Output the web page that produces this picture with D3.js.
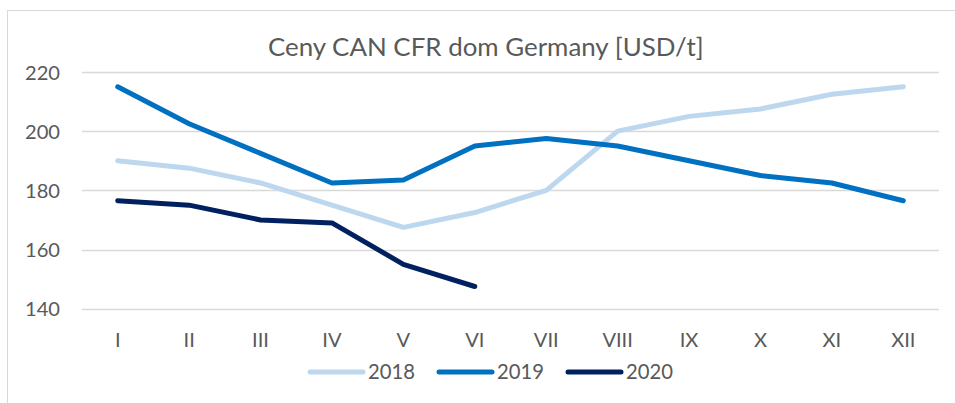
<!DOCTYPE html>
<html>
<head>
<meta charset="utf-8">
<script src="https://cdn.jsdelivr.net/npm/d3@7"></script>
<style>
html,body{margin:0;padding:0;background:#fff;}
svg{display:block;}
</style>
</head>
<body>
<svg id="chart" width="955" height="403"></svg>
<script>
const months = ["I","II","III","IV","V","VI","VII","VIII","IX","X","XI","XII"];
const yTicks = [140,160,180,200,220];
const seriesNames = ["2018","2019","2020"];
const values2018 = [190,187.5,182.5,175,167.5,172.5,180,200,205,207.5,212.5,215];
const values2019 = [215,202.5,192.5,182.5,183.5,195,197.5,195,190,185,182.5,176.5];
const values2020 = [176.5,175,170,169,155,147.5];
const colors = ["#BDD7EE","#0070C0","#002060"];
const titleText = "Ceny CAN CFR dom Germany [USD/t]";

const series = [values2018, values2019, values2020].map((v,i)=>({name:seriesNames[i], color:colors[i], values:v}));

const svg = d3.select("#chart");
const FONT = "Lato, 'Open Sans', sans-serif";
const textColor = "#595959";

// helper: font size to make a string reach a target width
function fitSize(str, target){
  const t = svg.append("text").attr("font-family",FONT).attr("font-size",100).text(str);
  const w = t.node().getComputedTextLength();
  t.remove();
  return 100*target/w;
}

// outer border
svg.append("rect").attr("x",7.5).attr("y",10.5).attr("width",970).attr("height",420)
  .attr("fill","none").attr("stroke","#D9D9D9").attr("stroke-width",1);

const x = d3.scaleBand().domain(months).range([82,939]);
const y = d3.scaleLinear().domain([140,220]).range([308.7,72]);

// gridlines
svg.append("g").selectAll("line").data(yTicks).join("line")
  .attr("x1",82).attr("x2",939)
  .attr("y1",d=>Math.round(y(d))+0.5).attr("y2",d=>Math.round(y(d))+0.5)
  .attr("stroke","#D9D9D9").attr("stroke-width",1.3);

// title
const titleSize = fitSize(titleText, 436);
svg.append("text").attr("x",(267.7+704)/2).attr("y",56)
  .attr("text-anchor","middle").attr("font-family",FONT).attr("font-size",titleSize)
  .attr("fill",textColor).text(titleText);

// y axis labels
const yAxis = d3.axisLeft(y).tickValues(yTicks).tickSize(0).tickPadding(0);
const tickSize = fitSize("220", 35);
const gy = svg.append("g").attr("transform","translate(60,0)").call(yAxis);
gy.select(".domain").remove();
gy.selectAll("text").attr("font-family",FONT).attr("font-size",tickSize)
  .attr("fill",textColor).attr("dy","0.35em");

// x axis labels
const xAxis = d3.axisBottom(x).tickSize(0).tickPadding(0);
const gx = svg.append("g").attr("transform","translate(0,347)").call(xAxis);
gx.select(".domain").remove();
gx.selectAll("text").attr("font-family",FONT).attr("font-size",tickSize)
  .attr("fill",textColor).attr("dy",0).attr("y",0);

// lines
const line = d3.line().x((d,i)=>x(months[i])+x.bandwidth()/2).y(d=>y(d));
svg.append("g").selectAll("path").data(series).join("path")
  .attr("d",d=>line(d.values))
  .attr("fill","none").attr("stroke",d=>d.color).attr("stroke-width",5)
  .attr("stroke-linecap","round").attr("stroke-linejoin","round");

// legend
const legendX = [310, 439, 568];
const lg = svg.append("g").selectAll("g").data(series).join("g")
  .attr("transform",(d,i)=>`translate(${legendX[i]},372)`);
lg.append("line").attr("x1",0).attr("x2",53).attr("y1",0).attr("y2",0)
  .attr("stroke",d=>d.color).attr("stroke-width",5).attr("stroke-linecap","round");
const legSize = fitSize("2018", 47);
lg.append("text").attr("x",58).attr("y",7).attr("font-family",FONT).attr("font-size",legSize)
  .attr("fill",textColor).text(d=>d.name);
</script>
</body>
</html>
